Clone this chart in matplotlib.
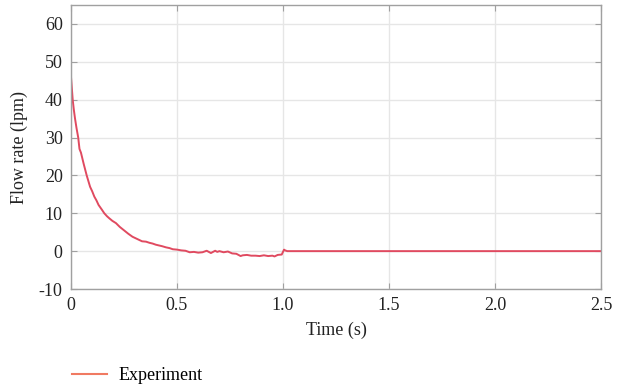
import matplotlib
matplotlib.use("Agg")
import matplotlib.pyplot as plt
from matplotlib.lines import Line2D

plt.rcParams['font.family'] = ['Liberation Serif', 'DejaVu Serif']

time_s = [0.000, 0.004, 0.008, 0.013, 0.019, 0.026, 0.034, 0.040, 0.047, 0.060,
          0.074, 0.090, 0.100, 0.110, 0.120, 0.130, 0.145, 0.157, 0.170, 0.180,
          0.195, 0.212, 0.230, 0.250, 0.270, 0.290, 0.305, 0.320, 0.335, 0.354,
          0.370, 0.385, 0.400, 0.415, 0.430, 0.448, 0.465, 0.480, 0.500, 0.520,
          0.540, 0.560, 0.580, 0.600, 0.620, 0.640, 0.660, 0.680, 0.690, 0.700,
          0.720, 0.740, 0.760, 0.780, 0.800, 0.810, 0.830, 0.850, 0.870, 0.890,
          0.910, 0.930, 0.950, 0.960, 0.975, 0.994, 1.005, 1.010, 1.020, 1.500,
          2.000, 2.500]
flow_lpm = [46.0, 43.0, 40.0, 37.5, 35.0, 32.5, 30.0, 27.0, 26.0, 23.0,
            20.0, 17.0, 15.8, 14.4, 13.4, 12.2, 11.0, 10.0, 9.2, 8.7,
            8.0, 7.4, 6.4, 5.5, 4.6, 3.8, 3.4, 3.0, 2.6, 2.5,
            2.2, 2.0, 1.7, 1.5, 1.3, 1.0, 0.8, 0.5, 0.4, 0.2,
            0.1, -0.3, -0.2, -0.4, -0.3, 0.1, -0.5, 0.1, -0.2, 0.0,
            -0.3, -0.1, -0.6, -0.7, -1.3, -1.1, -1.0, -1.2, -1.2, -1.3,
            -1.1, -1.3, -1.2, -1.4, -1.0, -0.9, 0.4, 0.2, 0.0, 0.0,
            0.0, 0.0]

xticks = [0, 0.5, 1.0, 1.5, 2.0, 2.5]
xticklabels = ["0", "0.5", "1.0", "1.5", "2.0", "2.5"]
yticks = [-10, 0, 10, 20, 30, 40, 50, 60]
yticklabels = ["-10", "0", "10", "20", "30", "40", "50", "60"]

fig = plt.figure(figsize=(6.17, 3.87), dpi=100)
ax = fig.add_axes([71/617, 1 - 289/387, 530/617, 284/387])

ax.plot(time_s, flow_lpm, color="#e04a60", lw=1.4)
ax.set_xlim(0, 2.5)
ax.set_ylim(-10, 65)
ax.set_xticks(xticks)
ax.set_xticklabels(xticklabels)
ax.set_yticks(yticks)
ax.set_yticklabels(yticklabels)
ax.grid(True, color="#e6e6e6", lw=1.0)
ax.set_axisbelow(True)
for s in ax.spines.values():
    s.set_color("#a0a0a0")
    s.set_linewidth(1.0)
ax.tick_params(direction="in", length=4, color="#a0a0a0", labelsize=13,
               top=True, right=True, labelcolor="#222222", pad=6)
ax.set_xlabel("Time (s)", fontsize=13, color="#222222", labelpad=5)
ax.set_ylabel("Flow rate (lpm)", fontsize=13, color="#222222", labelpad=8)

handle = Line2D([], [], color="#f07a62", lw=1.5)
fig.legend([handle], ["Experiment"], loc="center left",
           bbox_to_anchor=(56/617, 1 - 376/387), frameon=False, fontsize=13,
           handlelength=1.9, handletextpad=0.65)

fig.savefig("out.png", dpi=100)
